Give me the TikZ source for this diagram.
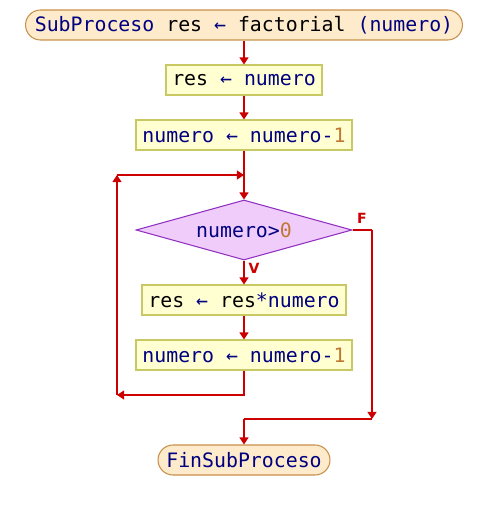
\documentclass[tikz,border=0pt]{standalone}
\usepackage{fontspec}
\setmonofont{DejaVu Sans Mono}
\setsansfont{DejaVu Sans}
\usepackage{xcolor}
\usetikzlibrary{shapes.geometric,arrows.meta}

\definecolor{flecha}{HTML}{CC0000}
\definecolor{azul}{HTML}{000080}
\definecolor{cifra}{HTML}{C07830}
\definecolor{cajafondo}{HTML}{FFFFD2}
\definecolor{cajaborde}{HTML}{C8C864}
\definecolor{rombofondo}{HTML}{F0CCFA}
\definecolor{romboborde}{HTML}{9030C0}
\definecolor{extfondo}{HTML}{FDEBCB}
\definecolor{extborde}{HTML}{C8904A}

\newcommand{\az}[1]{\textcolor{azul}{#1}}
\newcommand{\cf}[1]{\textcolor{cifra}{#1}}

\tikzset{
  caja/.style={draw=cajaborde, fill=cajafondo, line width=0.6pt, inner sep=0pt,
    minimum height=0.6cm, font=\ttfamily\fontsize{11.3}{13}\selectfont},
  extremo/.style={caja, draw=extborde, fill=extfondo, rounded corners=0.3cm},
  rombo/.style={diamond, draw=romboborde, fill=rombofondo, line width=0.6pt, inner sep=0pt,
    aspect=3.6, minimum width=4.32cm, minimum height=1.2cm,
    font=\ttfamily\fontsize{11.3}{13}\selectfont},
  flujo/.style={draw=flecha, line width=1.1pt, -{Triangle[length=4pt,width=5pt]}},
  linea/.style={draw=flecha, line width=1.1pt},
  rotulo/.style={text=flecha, font=\sffamily\bfseries\fontsize{8}{9}\selectfont}
}

\begin{document}
\begin{tikzpicture}[x=0.02cm, y=-0.02cm]

\useasboundingbox (0,0) rectangle (488,510);

% nodos
\node[extremo, minimum width=8.74cm] (ini) at (244,25)
  {\az{SubProceso} res \az{←} factorial \az{(numero)}};
\node[caja, minimum width=3.12cm] (a1) at (244,80) {res \az{← numero}};
\node[caja, minimum width=4.32cm] (a2) at (244,135) {\az{numero ← numero-}\cf{1}};
\node[rombo] (cond) at (244,230) {\az{numero>}\cf{0}};
\node[caja, minimum width=4.08cm] (a3) at (244,300) {res \az{←} res\az{*numero}};
\node[caja, minimum width=4.32cm] (a4) at (244,355) {\az{numero ← numero-}\cf{1}};
\node[extremo, minimum width=3.44cm] (fin) at (244,460) {\az{FinSubProceso}};

\node[rotulo] (lf) at (362,218) {F};
\node[rotulo] (lv) at (254,268) {V};

% puntos de paso
\coordinate (une) at (244,175);
\coordinate (izqA) at (117,395);
\coordinate (izqB) at (117,175);
\coordinate (derA) at (372,230);
\coordinate (derB) at (372,419);
\coordinate (junta) at (244,419);

% flechas
\draw[flujo] (ini) -- (a1);
\draw[flujo] (a1) -- (a2);
\draw[linea] (a2) -- (une);
\draw[flujo] (une) -- (cond.north);
\draw[flujo] (cond.south) -- (a3);
\draw[flujo] (a3) -- (a4);

\draw[flujo] (a4.south) |- (izqA);
\draw[flujo] (izqA) -- (izqB);
\draw[flujo] (izqB) -- (une);

\draw[linea] (cond.east) -- (derA);
\draw[flujo] (derA) -- (derB);
\draw[linea] (derB) -- (junta);
\draw[flujo] (junta) -- (fin);

\end{tikzpicture}
\end{document}
